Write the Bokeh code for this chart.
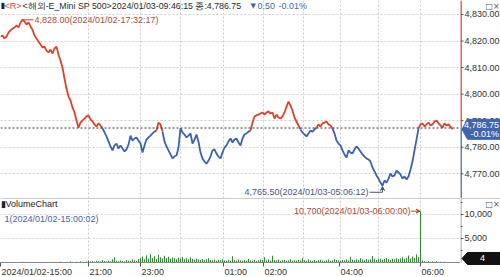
from bokeh.plotting import figure
from bokeh.layouts import column, row
from bokeh.models import (Range1d, FixedTicker, Grid, Label, Span, Arrow, VeeHead,
                          ColumnDataSource)
from bokeh.core.properties import value
from bokeh.embed import file_html
from bokeh.resources import INLINE

# ---------------- data ----------------
prices = [
    4821.7, 4822.1, 4821.0, 4821.7, 4823.2, 4824.0, 4824.7, 4825.1, 4825.9, 4825.1,
    4827.0, 4828.0, 4827.4, 4826.2, 4827.0, 4825.5, 4824.3, 4822.1, 4821.0, 4819.8,
    4818.7, 4817.6, 4817.9, 4816.4, 4815.7, 4816.8, 4815.3, 4817.2, 4817.9, 4814.9,
    4812.7, 4810.0, 4805.9, 4802.1, 4799.1, 4797.6, 4795.0, 4793.1, 4790.1, 4787.4,
    4789.3, 4790.1, 4790.8, 4791.6, 4792.0, 4790.5, 4789.7, 4788.6, 4787.8, 4789.0,
    4788.2, 4787.1, 4785.6, 4784.1, 4782.2, 4780.3, 4778.8, 4780.7, 4781.4, 4779.5,
    4780.7, 4779.5, 4778.4, 4779.2, 4781.0, 4784.4, 4782.5, 4783.3, 4783.7, 4782.5,
    4781.4, 4778.0, 4780.7, 4782.9, 4783.7, 4784.4, 4785.2, 4785.9, 4786.3, 4789.3,
    4788.6, 4785.9, 4782.2, 4780.3, 4778.8, 4777.3, 4775.8, 4776.6, 4776.9, 4779.9,
    4787.1, 4785.6, 4784.8, 4783.7, 4784.4, 4785.2, 4781.4, 4782.9, 4784.8, 4782.1,
    4778.0, 4775.8, 4774.6, 4773.8, 4775.0, 4776.5, 4778.8, 4779.2, 4777.6, 4776.5,
    4775.8, 4778.0, 4779.9, 4780.7, 4782.2, 4783.3, 4781.8, 4782.9, 4783.3, 4781.8,
    4780.7, 4783.3, 4784.8, 4785.2, 4785.9, 4786.3, 4789.3, 4791.6, 4792.0, 4792.3,
    4792.7, 4793.1, 4792.3, 4793.1, 4793.5, 4792.7, 4793.1, 4790.8, 4792.3, 4791.2,
    4790.8, 4791.6, 4793.1, 4795.3, 4797.2, 4795.7, 4793.8, 4791.2, 4789.7, 4788.2,
    4786.7, 4785.6, 4784.8, 4784.1, 4785.2, 4786.3, 4785.9, 4786.7, 4787.4, 4788.6,
    4787.8, 4789.0, 4789.3, 4789.7, 4788.6, 4788.2, 4787.1, 4785.2, 4782.5, 4781.4,
    4780.7, 4778.8, 4777.3, 4776.1, 4778.8, 4778.0, 4777.7, 4779.2, 4780.3, 4779.5,
    4778.4, 4777.3, 4776.5, 4775.8, 4775.4, 4774.6, 4772.4, 4770.9, 4769.4, 4768.2,
    4766.7, 4765.5, 4767.5, 4766.7, 4768.2, 4770.1, 4769.0, 4769.4, 4771.2, 4770.5,
    4769.7, 4768.2, 4769.0, 4767.9, 4769.0, 4771.6, 4774.6, 4778.8, 4782.9, 4787.1,
    4788.6, 4789.0, 4787.8, 4788.6, 4789.3, 4788.2, 4788.6, 4789.7, 4790.1, 4789.0,
    4788.2, 4787.4, 4789.0, 4788.2, 4788.6, 4787.8, 4786.75,
]

volumes = [
    1, 35, 20, 60, 15, 40, 80, 25, 50, 110, 45, 160, 90, 70, 130, 60, 40, 85, 55, 30,
    75, 120, 50, 35, 65, 95, 40, 150, 70, 55, 200, 85, 60, 110, 45, 230, 130, 90, 170, 75,
    260, 140, 95, 180,
    420, 210, 300, 180, 350, 260, 190, 480, 310, 220, 380, 270, 650, 1100, 350, 280, 420, 300, 240, 520,
    380, 290, 610, 450, 330, 700,
    900, 1250, 680, 1500, 820, 1750, 960, 1300, 720, 1600, 1100, 850, 1400, 930, 1200, 760, 1050, 880, 690, 980,
    820, 1150, 700, 900, 640, 1080, 760, 580, 820, 650,
    560, 720, 480, 650, 900, 520, 430, 610, 380, 540, 460, 700, 420, 350, 560, 400, 1300, 480, 390, 620,
    440, 360, 520, 410, 780, 460, 380, 540, 330, 450, 600,
    520, 1100, 430, 610, 380, 1400, 500, 420, 640, 360, 480, 550, 310, 430, 690, 390, 470, 360, 540, 420,
    900, 480, 360, 620, 450, 380, 520, 340, 460, 580,
    410, 350, 490, 620, 380, 450, 720, 540, 430, 380, 500, 460, 610, 420, 1200, 560, 480, 650, 520, 900,
    610, 480, 720, 560, 650, 1350, 780, 540, 690, 820, 600, 720, 950, 680, 560, 780, 640, 900, 720, 850,
    1100, 760, 980, 1450, 820, 1250, 960, 1700, 1100,
    10700,
    420, 260, 180, 310, 150, 220, 140, 260, 120, 180, 90, 150, 110, 70, 60, 4,
]

prev_close = 4787.25
last_price = 4786.75
change = -0.50
change_pct = -0.01
price_ticks = [4770, 4780, 4790, 4800, 4810, 4820, 4830]
volume_ticks = [5000, 10000]
volume_minor_ticks = [2500, 7500, 12500]
time_labels = ["2024/01/02-15:00", "21:00", "23:00", "01:00", "02:00", "04:00", "06:00"]
time_label_idx = [0, 44, 70, 111.5, 131.5, 169.5, 210]
hour_grid_idx = [44, 70, 90, 111.5, 131.5, 151.5, 170, 189, 210]
max_time = "2024/01/02-17:32:17"
min_time = "2024/01/03-05:06:12"
vol_max_time = "2024/01/03-06:00:00"
vol_min_time = "2024/01/02-15:00:02"
header_symbol = "<해외-E_Mini SP 500>"
header_time = "2024/01/03-09:46:15"

# ---------------- styles ----------------
FONT = "Liberation Sans"
FS = "9px"
RED = "#e0412b"
BLUE = "#3b62ad"
ANN_RED = "#b24a33"
ANN_BLUE = "#46567e"
BOX_BLUE = "#3e66ad"
GREEN = "#2f8a2f"
GRID = "#cccccc"
TXT = "#2a2a2a"
AX = "#555555"

X0, X1 = 0, 230
Y0, Y1 = 4760.7, 4835.27
FH1 = 198
PPU = FH1 / (Y1 - Y0)          # px per price unit
FH2 = 64
V1 = 13333
VPU = FH2 / V1                  # px per volume unit
BOT = 15                        # bottom axis band height

def new_fig(**kw):
    f = figure(toolbar_location=None, output_backend="svg", min_border_left=0,
               min_border_right=0, min_border_top=0, **kw)
    f.outline_line_color = None
    f.background_fill_color = "white"
    f.border_fill_color = "white"
    f.center = [c for c in f.center if not isinstance(c, Grid)]
    return f

def lab(fig, x, y, text, color=TXT, size=FS, font=FONT, **kw):
    fig.add_layout(Label(x=x, y=y, x_units="screen", y_units="screen", text=text,
                         text_font=font, text_font_size=size, text_color=color,
                         text_baseline="middle", **kw))

def txt(fig, x, y, s, color=TXT, align="left", size=FS, font=FONT):
    fig.text(x=x, y=y, text=s, text_font=value(font), text_font_size=size,
             text_color=color, text_baseline="middle", text_align=align)

# ---------------- price panel ----------------
p1 = new_fig(frame_width=460, frame_height=FH1, x_range=Range1d(X0, X1),
             y_range=Range1d(Y0, Y1), x_axis_location=None, y_axis_location=None,
             min_border_bottom=0)
p1.add_layout(Grid(dimension=1, ticker=FixedTicker(ticks=price_ticks),
                   grid_line_color=GRID, grid_line_dash="2 2"))
p1.add_layout(Grid(dimension=0, ticker=FixedTicker(ticks=hour_grid_idx),
                   grid_line_color=GRID, grid_line_dash="2 2"))
p1.add_layout(Span(location=prev_close, dimension="width", line_color="#333333",
                   line_dash="2 2", line_width=1))

idx = list(range(len(prices)))
runs_x, runs_y, runs_c = [], [], []
cur_x, cur_y, cur_up = [idx[0]], [prices[0]], None
for i in range(1, len(prices)):
    up = (prices[i - 1] + prices[i]) / 2 >= prev_close
    if cur_up is None:
        cur_up = up
    if up != cur_up:
        runs_x.append(cur_x); runs_y.append(cur_y); runs_c.append(RED if cur_up else BLUE)
        cur_x, cur_y = [idx[i - 1]], [prices[i - 1]]
        cur_up = up
    cur_x.append(idx[i]); cur_y.append(prices[i])
runs_x.append(cur_x); runs_y.append(cur_y); runs_c.append(RED if cur_up else BLUE)
p1.multi_line(xs="xs", ys="ys", line_color="c", line_width=1.8,
              source=ColumnDataSource(dict(xs=runs_x, ys=runs_y, c=runs_c)))

# max annotation
imax = max(idx, key=lambda i: prices[i])
vmax = prices[imax]
p1.segment(x0=[imax], y0=[vmax], x1=[imax + 5.5], y1=[vmax], line_color=ANN_RED, line_width=1)
txt(p1, [imax + 6], [vmax], [f"{vmax:,.2f}({max_time})"], color=ANN_RED)

# min annotation
imin = min(idx, key=lambda i: prices[i])
vmin = prices[imin]
ylow = vmin - 6.5 / PPU
p1.line(x=[imin - 6.5, imin], y=[ylow, ylow], line_color=ANN_BLUE, line_width=1)
p1.add_layout(Arrow(end=VeeHead(size=4, line_color=ANN_BLUE, fill_color=ANN_BLUE),
                    x_start=imin, y_start=ylow, x_end=imin, y_end=vmin - 0.8 / PPU,
                    line_color=ANN_BLUE, line_width=1))
txt(p1, [imin - 7], [ylow], [f"{vmin:,.2f}({min_time})"], color=ANN_BLUE, align="right")

# header
lab(p1, 0, 193, "▮", color="#222222", font="DejaVu Sans", size="8px")
lab(p1, 4, 193, "<R>", color="#d04545")
lab(p1, 22, 193, f"{header_symbol}{header_time} 종:{last_price:,.2f}", size="8.8px")
lab(p1, 250, 193, "▼" if change < 0 else "▲", color=BOX_BLUE, font="DejaVu Sans", size="7px")
lab(p1, 257, 193, f"{abs(change):.2f}", color=BOX_BLUE)
lab(p1, 278, 193, f"{change_pct:.2f}%", color=BOX_BLUE)

# ---------------- price axis strip ----------------
p1r = new_fig(frame_width=40, frame_height=FH1, x_range=Range1d(0, 40), y_range=p1.y_range,
              x_axis_location=None, y_axis_location=None, min_border_bottom=0)
p1r.segment(x0=[0.5, 0.5], x1=[0.5, 0.5], y0=[Y1, prev_close], y1=[prev_close, Y0],
            line_color=[RED, BLUE], line_width=1.6)
p1r.segment(x0=[0] * len(price_ticks), x1=[3] * len(price_ticks), y0=price_ticks,
            y1=price_ticks, line_color=AX, line_width=1)
txt(p1r, [4] * len(price_ticks), price_ticks, [f"{t:,.2f}" for t in price_ticks], color="#333333")
bh = 10 / PPU
p1r.patch(x=[1.5, 7, 40, 40, 7], y=[last_price, last_price + bh, last_price + bh,
                                     last_price - bh, last_price - bh],
          fill_color=BOX_BLUE, line_color=BOX_BLUE)
txt(p1r, [38.5, 38.5], [last_price + 4.8 / PPU, last_price - 4.8 / PPU],
    [f"{last_price:,.2f}", f"{change_pct:.2f}%"], color="white", align="right")
txt(p1r, [25], [Y1 - 6 / PPU], ["□×"], color="#555555", font="DejaVu Sans", size="8px")

# ---------------- volume panel ----------------
p2 = new_fig(frame_width=460, frame_height=FH2, x_range=p1.x_range, y_range=Range1d(0, V1),
             x_axis_location="below", y_axis_location=None, min_border_bottom=BOT)
p2.add_layout(Grid(dimension=1, ticker=FixedTicker(ticks=volume_ticks),
                   grid_line_color=GRID, grid_line_dash="2 2"))
p2.add_layout(Grid(dimension=0, ticker=FixedTicker(ticks=hour_grid_idx),
                   grid_line_color=GRID, grid_line_dash="2 2"))
p2.add_layout(Span(location=V1, dimension="width", line_color="#999999", line_width=1))

vidx = list(range(len(volumes)))
p2.segment(x0=vidx, y0=[0] * len(volumes), x1=vidx, y1=volumes, line_color=GREEN, line_width=1)

# time axis: labels start at the tick (left aligned), so put label centres half a label right
CW = {"/": 2.5, ":": 2.5, "-": 3.0, ".": 2.5}
def text_w(s):
    return sum(CW.get(ch, 5.0) for ch in s)
label_centers = [round(t + (text_w(s) / 2 + 1) / 2, 3) for t, s in zip(time_label_idx, time_labels)]
vx = p2.xaxis[0]
vx.ticker = FixedTicker(ticks=label_centers, minor_ticks=time_label_idx)
vx.major_label_overrides = {c: s for c, s in zip(label_centers, time_labels)}
vx.major_label_text_font = FONT
vx.major_label_text_font_size = FS
vx.major_label_text_color = "#333333"
vx.major_label_standoff = 0
vx.major_tick_out = 0
vx.major_tick_in = 0
vx.major_tick_line_color = None
vx.minor_tick_out = 4
vx.minor_tick_in = 0
vx.minor_tick_line_color = AX
vx.axis_line_color = "#888888"

lab(p2, 0, 59, "▮VolumeChart", color="#222222")
lab(p2, 4, 44, f"{volumes[0]}({vol_min_time})", color="#4a62a0")

ivmax = max(vidx, key=lambda i: volumes[i])
vvmax = volumes[ivmax]
p2.add_layout(Arrow(end=VeeHead(size=4, line_color=ANN_RED, fill_color=ANN_RED),
                    x_start=ivmax - 4.8, y_start=vvmax, x_end=ivmax - 0.2, y_end=vvmax,
                    line_color=ANN_RED, line_width=1))
txt(p2, [ivmax - 5], [vvmax], [f"{vvmax:,}({vol_max_time})"], color=ANN_RED, align="right")

# ---------------- volume axis strip ----------------
p2r = new_fig(frame_width=40, frame_height=FH2 + BOT, x_range=Range1d(0, 40),
              y_range=Range1d(-BOT / VPU, V1), x_axis_location=None, y_axis_location=None,
              min_border_bottom=0)
p2r.add_layout(Span(location=V1, dimension="width", line_color="#999999", line_width=1))
p2r.segment(x0=[0.5], x1=[0.5], y0=[V1], y1=[0], line_color="#888888", line_width=1)
p2r.segment(x0=[0] * len(volume_ticks), x1=[3] * len(volume_ticks), y0=volume_ticks,
            y1=volume_ticks, line_color=AX, line_width=1)
p2r.segment(x0=[0] * len(volume_minor_ticks), x1=[2] * len(volume_minor_ticks),
            y0=volume_minor_ticks, y1=volume_minor_ticks, line_color=AX, line_width=1)
txt(p2r, [4] * len(volume_ticks), volume_ticks, [f"{t:,}" for t in volume_ticks], color="#333333")
txt(p2r, [25], [V1 - 6 / VPU], ["□×"], color="#555555", font="DejaVu Sans", size="8px")
vc = volumes[-1] + 4 / VPU
vh = 6 / VPU
p2r.patch(x=[1.5, 7, 40, 40, 7], y=[vc, vc + vh, vc + vh, vc - vh, vc - vh],
          fill_color="#111111", line_color="#111111")
txt(p2r, [22], [vc], [f"{volumes[-1]}"], color="white", align="center")

layout = row(column(p1, p2, spacing=0), column(p1r, p2r, spacing=0), spacing=0)
open("out.html", "w").write(file_html(layout, INLINE))
